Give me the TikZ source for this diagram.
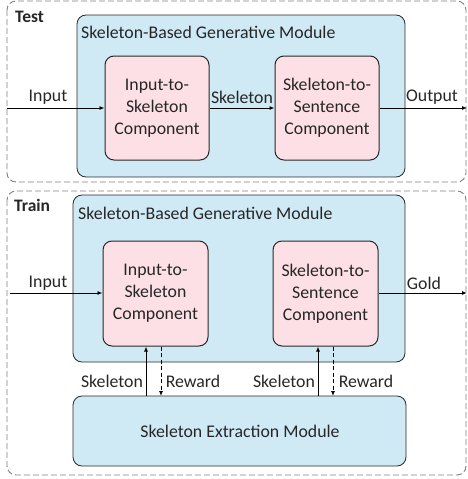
\documentclass[tikz,border=0pt]{standalone}
\usepackage{fontspec}
\setmainfont{Carlito}
\usetikzlibrary{arrows.meta}
\definecolor{bluefill}{RGB}{207,234,245}
\definecolor{pinkfill}{RGB}{253,224,230}
\definecolor{dashgray}{RGB}{128,128,128}
\definecolor{edge}{RGB}{40,40,40}
\definecolor{ink}{RGB}{38,38,38}
\tikzset{
  phase/.style={draw=dashgray, line width=0.9pt, dash pattern=on 6pt off 3pt, rounded corners=9pt},
  module/.style={draw=edge, fill=bluefill, line width=0.8pt, rounded corners=9pt},
  comp/.style={draw=edge, fill=pinkfill, line width=1pt, rounded corners=9pt},
  txt/.style={font=\fontsize{17.8}{21.8}\selectfont, text=ink, inner sep=0pt, align=center},
  btxt/.style={font=\fontsize{17.5}{21.5}\selectfont\bfseries, text=ink, inner sep=0pt},
  arr/.style={-{Latex[length=5pt,width=4pt]}, line width=0.9pt, draw=black},
  darr/.style={arr, dash pattern=on 4pt off 2.5pt},
}
\begin{document}
\begin{tikzpicture}[x=1pt,y=-1pt]
\useasboundingbox (0,0) rectangle (467,479);
% Test phase
\draw[phase] (7,1) rectangle (466,182);
\node[btxt, anchor=west] (testlbl) at (15,17) {Test};
\draw[module] (77,15) rectangle (405,177);
\node[txt, anchor=west] (testmod) at (81,32) {Skeleton-Based Generative Module};
\node[comp, minimum width=104pt, minimum height=104pt, txt] (ti2s) at (157,108) {Input-to-\\Skeleton\\Component};
\node[comp, minimum width=104pt, minimum height=104pt, txt] (ts2s) at (327,108) {Skeleton-to-\\Sentence\\Component};
\coordinate (tin) at (7,108);
\coordinate (tout) at (467,108);
\draw[arr] (tin) -- (ti2s.west);
\draw[arr] (ti2s.east) -- (ts2s.west);
\draw[arr] (ts2s.east) -- (tout);
\node[txt] (tinlbl) at (48,97) {Input};
\node[txt] (tsklbl) at (242,97) {Skeleton};
\node[txt] (toutlbl) at (432,97) {Output};
% Train phase
\draw[phase] (7,191) rectangle (466,475);
\node[btxt, anchor=west] (trainlbl) at (14,205) {Train};
\draw[module] (73,195) rectangle (405,362);
\node[txt, anchor=west] (trainmod) at (78,213) {Skeleton-Based Generative Module};
\node[comp, minimum width=105pt, minimum height=105pt, txt] (ri2s) at (155.5,293.5) {Input-to-\\Skeleton\\Component};
\node[comp, minimum width=105pt, minimum height=105pt, txt] (rs2s) at (325.5,293.5) {Skeleton-to-\\Sentence\\Component};
\draw[module] (73,396) rectangle (406,466);
\node[txt] (extract) at (240,431) {Skeleton Extraction Module};
\coordinate (rin) at (10,293);
\coordinate (rout) at (467,293);
\draw[arr] (rin) -- (ri2s.west |- rin);
\draw[arr] (rs2s.east |- rout) -- (rout);
\node[txt] (rinlbl) at (48,283) {Input};
\node[txt] (goldlbl) at (424,283) {Gold};
% vertical connectors
\coordinate (e1a) at (146,396);
\coordinate (e1b) at (161,396);
\coordinate (e2a) at (318,396);
\coordinate (e2b) at (333,396);
\draw[arr] (e1a) -- (e1a |- ri2s.south);
\draw[darr] (e1b |- ri2s.south) -- (e1b);
\draw[arr] (e2a) -- (e2a |- rs2s.south);
\draw[darr] (e2b |- rs2s.south) -- (e2b);
\node[txt] (sk1) at (112,381) {Skeleton};
\node[txt] (rw1) at (193,381) {Reward};
\node[txt] (sk2) at (284,381) {Skeleton};
\node[txt] (rw2) at (366,381) {Reward};
\end{tikzpicture}
\end{document}
